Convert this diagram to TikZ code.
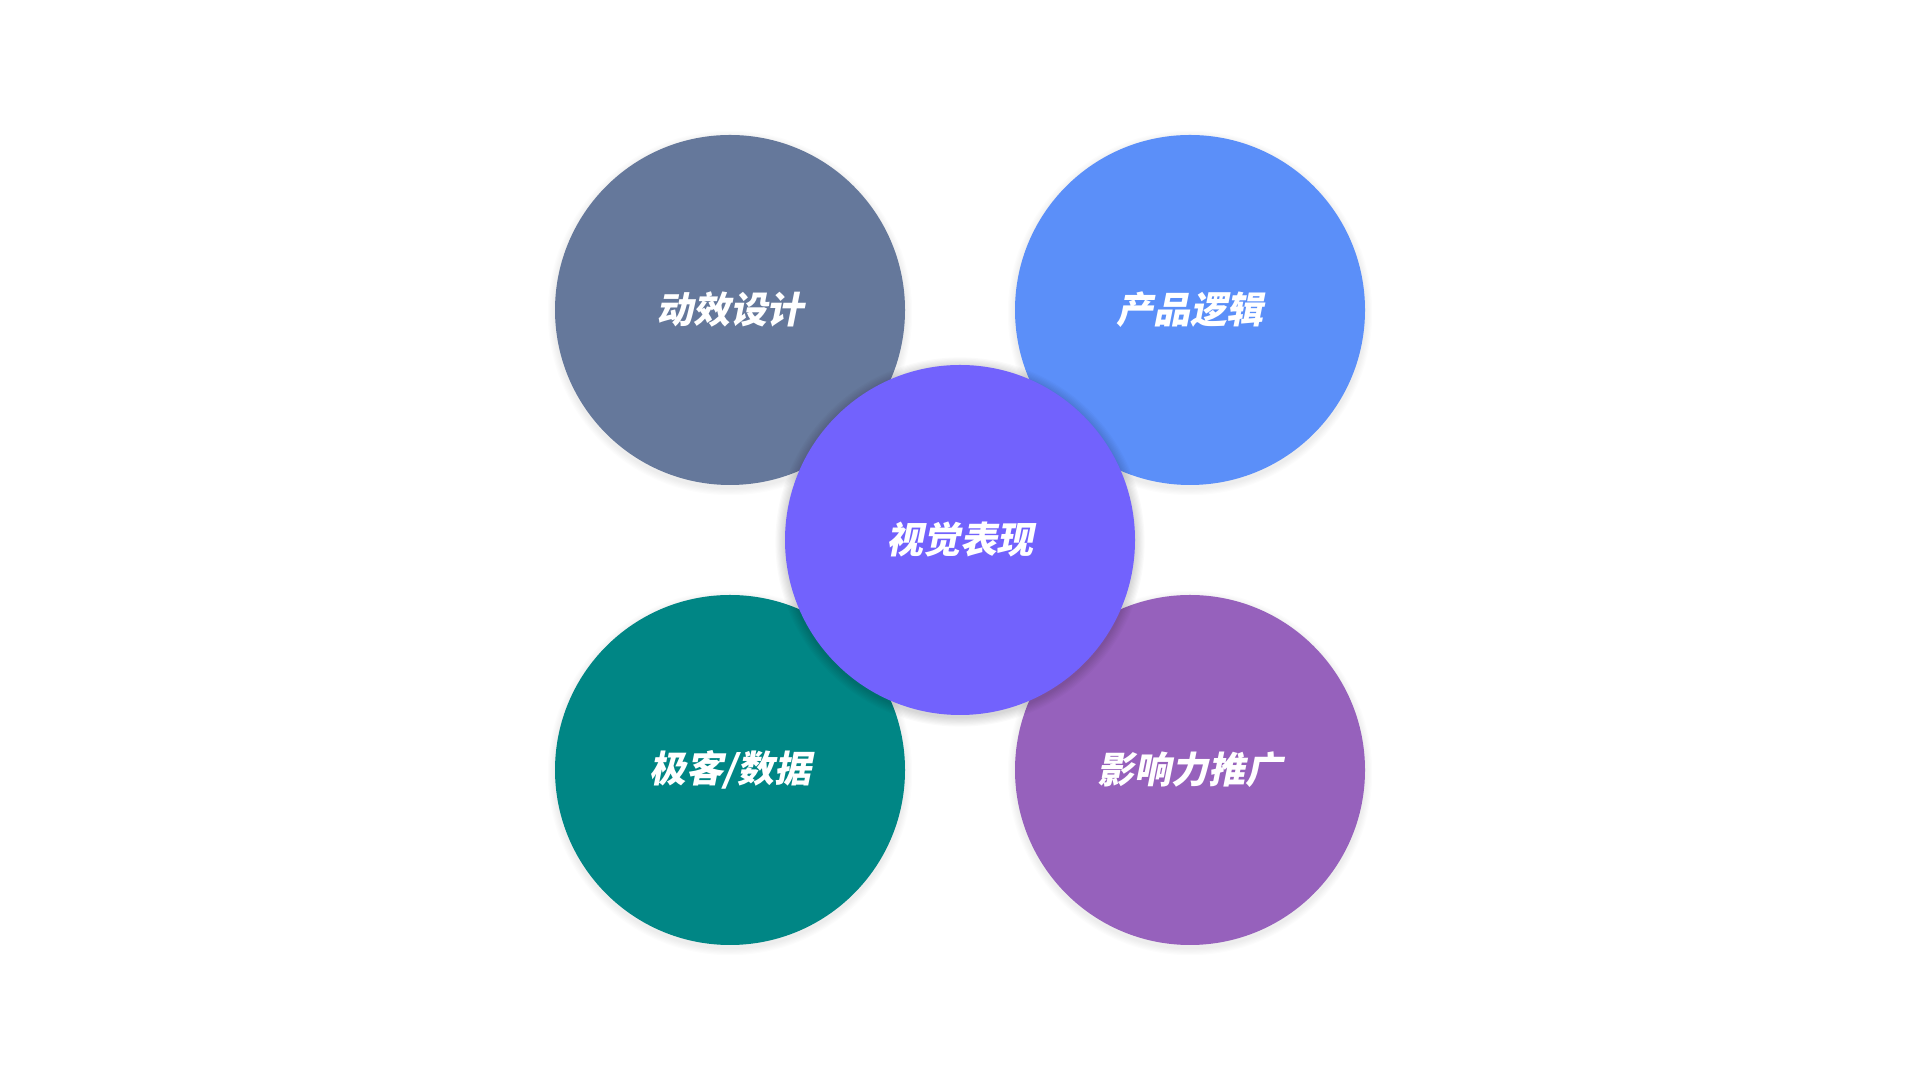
\documentclass[tikz,border=0pt]{standalone}
\usepackage{fontspec}
\newfontfamily\cjk{Noto Sans CJK SC Black}[FakeSlant=0.2]
\definecolor{slate}{HTML}{65789B}
\definecolor{sky}{HTML}{5B8FF9}
\definecolor{violet}{HTML}{7262FD}
\definecolor{teal}{HTML}{008685}
\definecolor{plum}{HTML}{9661BC}
\tikzset{
  bubble/.style={circle,minimum size=3.5cm,inner sep=0pt,text=white,
    font=\cjk\fontsize{10.5}{12}\selectfont},
}
\begin{document}
\begin{tikzpicture}
\useasboundingbox (0,0) rectangle (19.2,10.8);
\fill[white] (0,0) rectangle (19.2,10.8);
% soft shadows under the outer circles
\foreach \p in {(7.3,7.7),(11.9,7.7),(7.3,3.1),(11.9,3.1)}
  \foreach \r in {1,...,6}
    \fill[black,opacity=0.012] \p ++(0,-0.03) circle [radius={1.75+0.012*\r}];
\node[bubble,fill=slate] (motion) at (7.3,7.7) {动效设计};
\node[bubble,fill=sky] (logic) at (11.9,7.7) {产品逻辑};
\node[bubble,fill=teal] (geek) at (7.3,3.1) {极客/数据};
\node[bubble,fill=plum] (reach) at (11.9,3.1) {影响力推广};
% center circle with its shadow on top
\foreach \r in {1,...,8}
  \fill[black,opacity=0.02] (9.6,5.4) ++(0,-0.02) circle [radius={1.75+0.012*\r}];
\node[bubble,fill=violet] (visual) at (9.6,5.4) {视觉表现};
\end{tikzpicture}
\end{document}
